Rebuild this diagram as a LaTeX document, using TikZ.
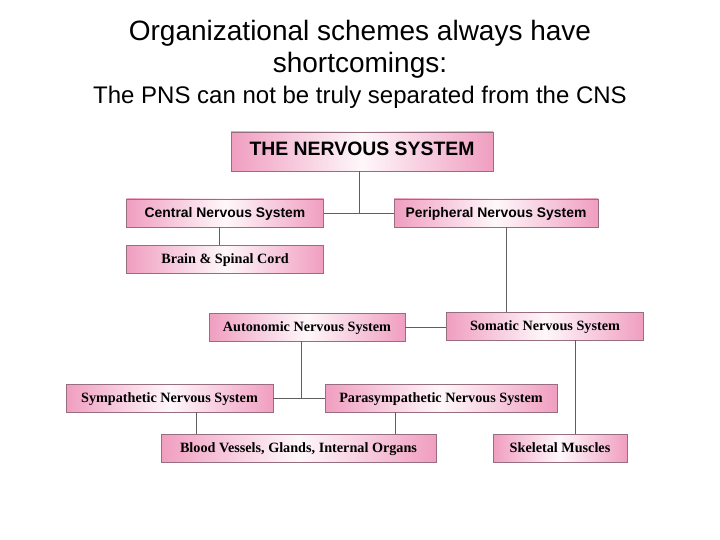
\documentclass[tikz,border=0pt]{standalone}
\usepackage{fontspec}
\setmainfont{Liberation Serif}
\setsansfont{Liberation Sans}
\usepackage{tikz}
\usetikzlibrary{positioning, calc}
\definecolor{boxpink}{RGB}{240,158,192}
\definecolor{boxedge}{RGB}{150,110,128}
\definecolor{linkgray}{RGB}{95,95,95}
\tikzstyle{link}=[line width=0.9pt, color=linkgray]

\begin{document}
\begin{tikzpicture}[x=1pt, y=-1pt,
  mbox/.style={rectangle, draw=boxedge, line width=0.8pt,
               left color=boxpink, right color=boxpink, middle color=white!92!boxpink,
               minimum height=28pt, inner sep=0pt,
               text height=9.6pt, text depth=0pt,
               font=\rmfamily\bfseries\fontsize{14.2}{16}\selectfont},
  sbox/.style={mbox, text height=10pt, font=\sffamily\bfseries\fontsize{13.9}{16}\selectfont},
  title/.style={font=\sffamily\fontsize{28}{32}\selectfont, inner sep=0pt}
]
\useasboundingbox (0,0) rectangle (720,540);

% heading
\node[title] (head1) at (360,33) {Organizational schemes always have};
\node[title] (head2) at (360,65) {shortcomings:};
\node[title, font=\sffamily\fontsize{24}{28}\selectfont] (head3) at (360,97)
     {The PNS can not be truly separated from the CNS};

% boxes
\node[sbox, minimum width=262pt, minimum height=39pt, text height=9pt,
      font=\sffamily\bfseries\fontsize{19.4}{22}\selectfont] (ns_n) at (362,151.5) {THE NERVOUS SYSTEM};
\node[sbox, minimum width=197pt] (cns_n)  at (225,213) {Central Nervous System};
\node[sbox, minimum width=204pt] (pns_n)  at (496,213) {Peripheral Nervous System};
\node[mbox, minimum width=197pt] (brain_n) at (225,259) {Brain \& Spinal Cord};
\node[mbox, minimum width=196pt] (ans_n)  at (307,327) {Autonomic Nervous System};
\node[mbox, minimum width=197pt] (som_n)  at (545,326) {Somatic Nervous System};
\node[mbox, minimum width=207pt] (symp_n) at (169.5,398) {Sympathetic Nervous System};
\node[mbox, minimum width=232pt] (para_n) at (441,398) {Parasympathetic Nervous System};
\node[mbox, minimum width=275pt] (blood_n) at (298.5,448) {Blood Vessels, Glands, Internal Organs};
\node[mbox, minimum width=134pt] (skel_n) at (560,448) {Skeletal Muscles};

% links
\draw[link] ([xshift=-3pt]ns_n.south) -- ([xshift=-3pt]ns_n.south |- cns_n.east);
\draw[link] (cns_n.east) -- (pns_n.west);
\draw[link] ([xshift=-6pt]cns_n.south) -- ([xshift=-6pt]cns_n.south |- brain_n.north);
\draw[link] ([xshift=10pt]pns_n.south) -- ([xshift=10pt]pns_n.south |- som_n.north);
\draw[link] (ans_n.east) -- (som_n.west |- ans_n.east);
\draw[link] ([xshift=-6pt]ans_n.south) -- ([xshift=-6pt]ans_n.south |- symp_n.east);
\draw[link] (symp_n.east) -- (para_n.west);
\draw[link] ([xshift=27pt]symp_n.south) -- ([xshift=27pt]symp_n.south |- blood_n.north);
\draw[link] ([xshift=-46pt]para_n.south) -- ([xshift=-46pt]para_n.south |- blood_n.north);
\draw[link] ([xshift=30pt]som_n.south) -- ([xshift=30pt]som_n.south |- skel_n.north);
\end{tikzpicture}
\end{document}
